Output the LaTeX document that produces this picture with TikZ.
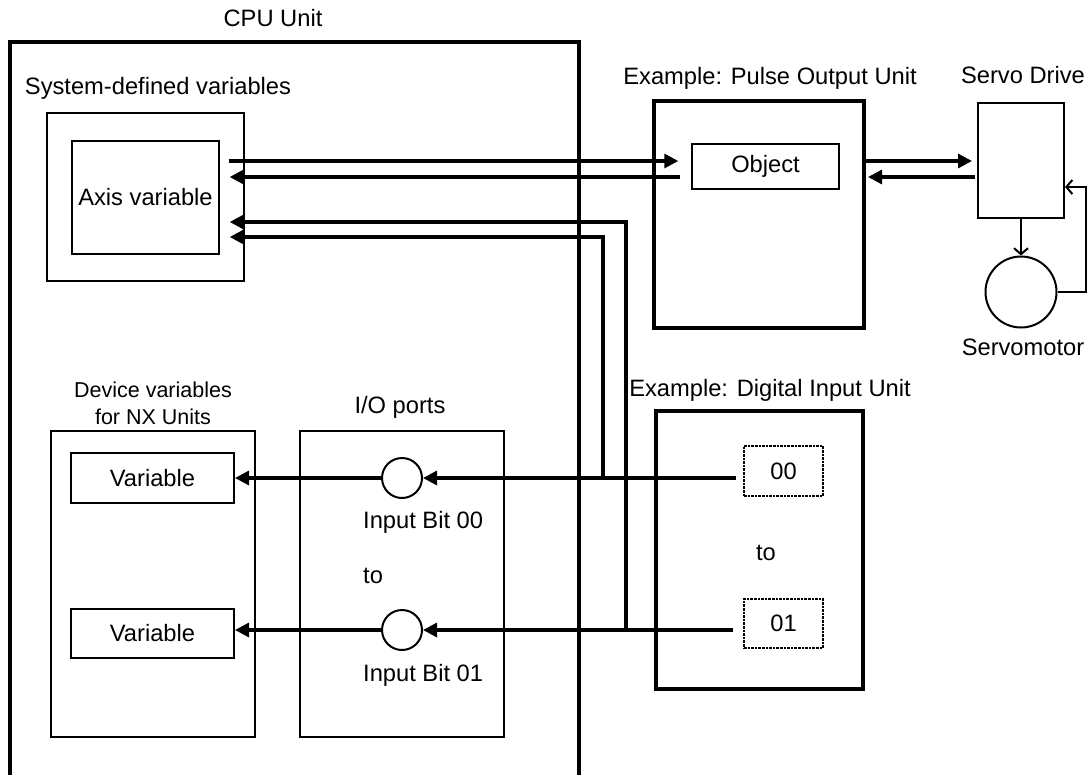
\documentclass[tikz,border=0pt]{standalone}
\usepackage{fontspec}
\setmainfont{Liberation Sans}
\usetikzlibrary{arrows.meta, positioning}
\tikzset{>={Triangle[width=14pt,length=14pt]}}
\tikzset{
  unitbox/.style = {draw, line width=4pt, inner sep=0pt},
  box/.style = {draw, line width=2pt, inner sep=0pt},
  thinbox/.style = {draw, line width=1.4pt, inner sep=0pt},
  bitbox/.style = {draw, line width=2.4pt, dash pattern=on 2.6pt off 1pt, inner sep=0pt,
                   minimum width=79pt, minimum height=50pt},
  port/.style = {draw, circle, line width=2pt, minimum size=40pt, inner sep=0pt},
  txt/.style = {inner sep=0pt},
  bus/.style = {line width=3.2pt},
  fb/.style = {line width=2pt, -{Straight Barb[length=6pt,width=14pt]}}
}

\begin{document}
\begin{tikzpicture}[x=1pt, y=-1pt, font=\fontsize{23.7}{28}\selectfont]
  \useasboundingbox (0,0) rectangle (1091,774);

  \node (cpu) [unitbox, minimum width=569pt, minimum height=770pt] at (294.5,427) {};
  \node (cpulbl) [txt] at (273,18) {CPU Unit};

  \node (sysvar) [box, minimum width=197pt, minimum height=168pt] at (145.5,197) {};
  \node (sysvarlbl) [txt] at (158,88) {System-defined variables};
  \node (axis) [thinbox, minimum width=147pt, minimum height=113pt] at (145.5,197.5) {Axis variable};

  \node (devvar) [box, minimum width=204pt, minimum height=306pt] at (153,584) {};
  \node (devvarlbl) [txt, align=center, font=\fontsize{21.5}{27}\selectfont] at (153,403.5)
        {Device variables\\for NX Units};
  \node (var1) [box, minimum width=163pt, minimum height=50pt] at (152.5,478) {Variable};
  \node (var2) [box, minimum width=163pt, minimum height=49pt] at (152.5,633.5) {Variable};

  \node (ioports) [box, minimum width=204pt, minimum height=306pt] at (402,584) {};
  \node (ioportslbl) [txt] at (400,407) {I/O ports};
  \node (port0) [port] at (402,478) {};
  \node (port1) [port] at (402,630) {};
  \node (bit0lbl) [txt, anchor=west] at (363,522) {Input Bit 00};
  \node (iotolbl) [txt, anchor=west] at (363,576) {to};
  \node (bit1lbl) [txt, anchor=west] at (363,675) {Input Bit 01};

  \node (pulse) [unitbox, minimum width=210pt, minimum height=227pt] at (759,214.5) {};
  \node (pulselbl) [txt] at (770,78) {Example: Pulse Output Unit};
  \node (object) [thinbox, minimum width=147pt, minimum height=45pt] at (765.5,166.5) {Object};

  \node (drive) [box, minimum width=86pt, minimum height=115pt] at (1021,160.5) {};
  \node (drivelbl) [txt] at (1023,75) {Servo Drive};
  \node (motor) [box, circle, minimum size=71pt] at (1021,292) {};
  \node (motorlbl) [txt] at (1023,347) {Servomotor};

  \node (digital) [unitbox, line width=3.6pt, minimum width=207pt, minimum height=278pt] at (759.5,550) {};
  \node (digitallbl) [txt] at (770,390) {Example: Digital Input Unit};
  \node (bit00) [bitbox] at (783.5,471) {00};
  \node (bit01) [bitbox, minimum height=49pt] at (783.5,623.5) {01};
  \node (digtolbl) [txt] at (766,553) {to};

  \coordinate (in00) at (736,478);
  \coordinate (in01) at (733,630);
  \coordinate (tap0) at (603,478);
  \coordinate (tap1) at (626,630);

  \draw[bus, ->] ([xshift=9pt, yshift=36.5pt]axis.east) -- ([xshift=-13pt, yshift=5.5pt]object.west);
  \draw[bus, ->] ([xshift=-11pt, yshift=-10.5pt]object.west) -- ([xshift=10pt, yshift=20.5pt]axis.east);
  \draw[bus, ->] (tap1) |- ([xshift=10pt, yshift=-24.5pt]axis.east);
  \draw[bus, ->] (tap0) |- ([xshift=10pt, yshift=-39.5pt]axis.east);

  \draw[bus, ->] ([yshift=53.5pt]pulse.east) -- ([xshift=-5pt, yshift=-0.5pt]drive.west);
  \draw[bus, ->] ([xshift=-2pt, yshift=-16.5pt]drive.west) -- ([xshift=2pt, yshift=37.5pt]pulse.east);
  \draw[fb] (drive.south) -- (motor.north);
  \draw[fb] (motor.east) -- ++(28,0) |- ([yshift=-26.5pt]drive.east);

  \draw[bus, ->] (in00) -- (port0);
  \draw[bus, ->] (in01) -- (port1);
  \draw[bus, ->] (port0.west) -- (port0.west -| var1.east);
  \draw[bus, ->] (port1.west) -- (port1.west -| var2.east);
\end{tikzpicture}
\end{document}
